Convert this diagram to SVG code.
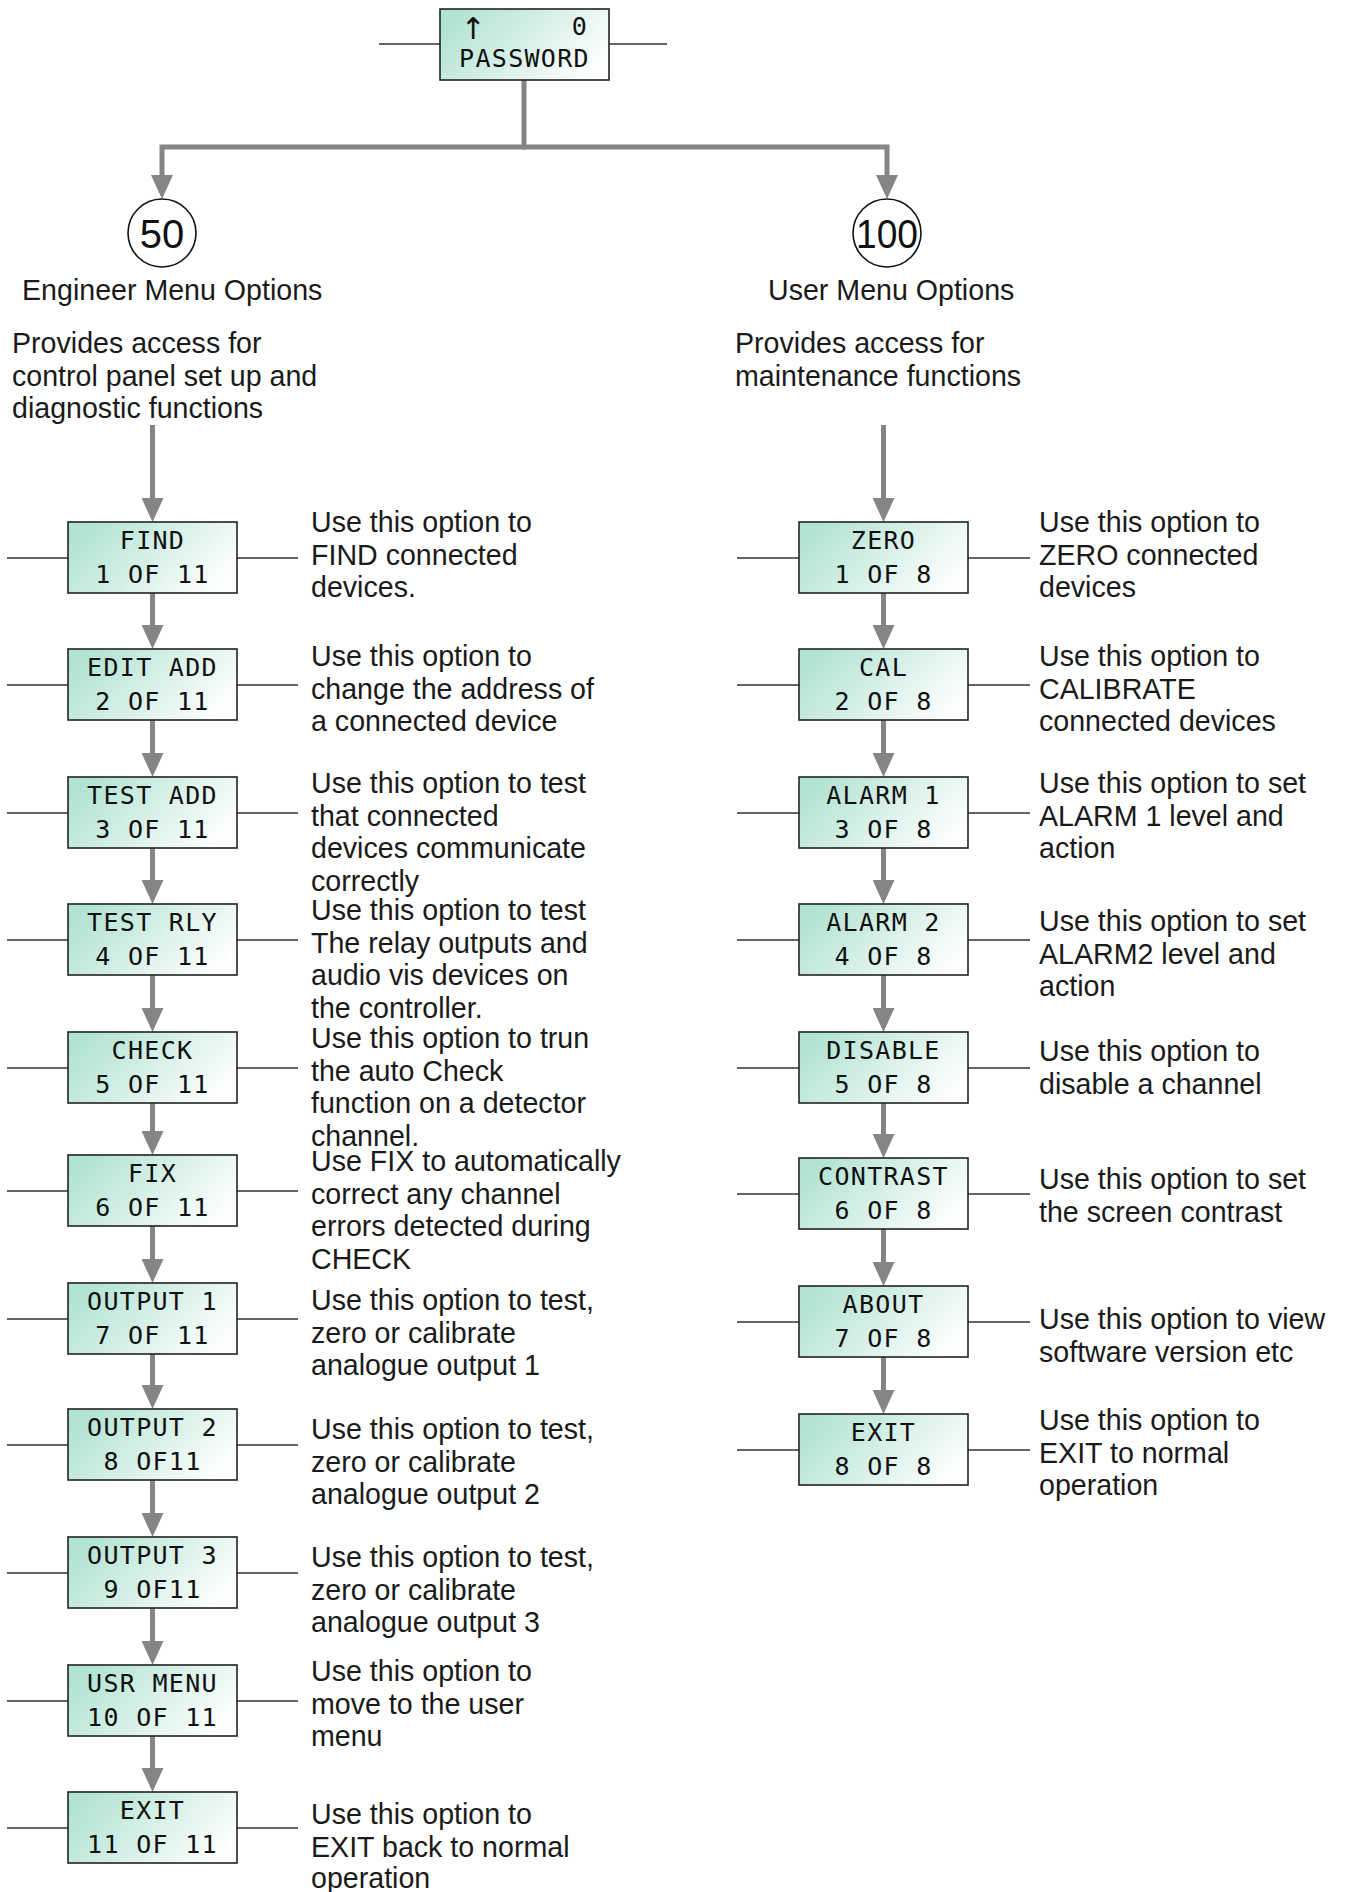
<svg xmlns="http://www.w3.org/2000/svg" width="1349" height="1892" viewBox="0 0 1349 1892">
<style>
.lcd{stroke:#222;stroke-width:1.6;fill:url(#lcdg)}
.lcdt{font-family:"DejaVu Sans Mono","Liberation Mono",monospace;font-size:25px;fill:#111;text-anchor:middle;letter-spacing:1.3px}
.arr{font-family:"DejaVu Sans","Liberation Sans",sans-serif;font-size:30px;fill:#111;text-anchor:middle}
.desc{font-family:"Liberation Sans",Arial,sans-serif;font-size:28.6px;fill:#1a1a1a}
.circ{fill:#fff;stroke:#111;stroke-width:1.6}
.num{font-family:"Liberation Sans",Arial,sans-serif;font-size:40px;fill:#111;text-anchor:middle}
.flow{fill:none;stroke:#858585;stroke-width:5}
.tick{fill:none;stroke:#333;stroke-width:1.6}
</style>
<defs>
<linearGradient id="lcdg" x1="0" y1="0.3" x2="1" y2="0.7">
<stop offset="0" stop-color="#b0e3d2"/>
<stop offset="0.55" stop-color="#dcf2ea"/>
<stop offset="1" stop-color="#ffffff"/>
</linearGradient>
<marker id="ah" viewBox="0 0 24 22" refX="12" refY="11" markerWidth="24" markerHeight="22" markerUnits="userSpaceOnUse" orient="auto">
<path d="M0,0 L24,11 L0,22 z" fill="#858585"/>
</marker>
</defs>
<rect width="1349" height="1892" fill="#fff"/>

<g id="connectors">
<path class="flow" d="M524,80 V147"/>
<path class="flow" d="M526,147 H162 V187" marker-end="url(#ah)"/>
<path class="flow" d="M522,147 H887 V187" marker-end="url(#ah)"/>
<path class="flow" d="M152.5,425 V510" marker-end="url(#ah)"/>
<path class="flow" d="M883.5,425 V510" marker-end="url(#ah)"/>
<path class="flow" d="M152.5,593 V637" marker-end="url(#ah)"/>
<path class="flow" d="M152.5,720 V765" marker-end="url(#ah)"/>
<path class="flow" d="M152.5,848 V892" marker-end="url(#ah)"/>
<path class="flow" d="M152.5,975 V1020" marker-end="url(#ah)"/>
<path class="flow" d="M152.5,1103 V1143" marker-end="url(#ah)"/>
<path class="flow" d="M152.5,1226 V1271" marker-end="url(#ah)"/>
<path class="flow" d="M152.5,1354 V1397" marker-end="url(#ah)"/>
<path class="flow" d="M152.5,1480 V1525" marker-end="url(#ah)"/>
<path class="flow" d="M152.5,1608 V1653" marker-end="url(#ah)"/>
<path class="flow" d="M152.5,1736 V1780" marker-end="url(#ah)"/>
<path class="flow" d="M883.5,593 V637" marker-end="url(#ah)"/>
<path class="flow" d="M883.5,720 V765" marker-end="url(#ah)"/>
<path class="flow" d="M883.5,848 V892" marker-end="url(#ah)"/>
<path class="flow" d="M883.5,975 V1020" marker-end="url(#ah)"/>
<path class="flow" d="M883.5,1103 V1146" marker-end="url(#ah)"/>
<path class="flow" d="M883.5,1229 V1274" marker-end="url(#ah)"/>
<path class="flow" d="M883.5,1357 V1402" marker-end="url(#ah)"/>
<path class="tick" d="M379,44 H440 M609,44 H667"/>
<path class="tick" d="M7,558 H68 M237,558 H298 M7,685 H68 M237,685 H298 M7,813 H68 M237,813 H298 M7,940 H68 M237,940 H298 M7,1068 H68 M237,1068 H298 M7,1191 H68 M237,1191 H298 M7,1319 H68 M237,1319 H298 M7,1445 H68 M237,1445 H298 M7,1573 H68 M237,1573 H298 M7,1701 H68 M237,1701 H298 M7,1828 H68 M237,1828 H298"/>
<path class="tick" d="M737,558 H799 M968,558 H1030 M737,685 H799 M968,685 H1030 M737,813 H799 M968,813 H1030 M737,940 H799 M968,940 H1030 M737,1068 H799 M968,1068 H1030 M737,1194 H799 M968,1194 H1030 M737,1322 H799 M968,1322 H1030 M737,1450 H799 M968,1450 H1030"/>
</g>

<g id="node-password" transform="translate(440,9)">
<rect class="lcd" width="169" height="71"/>
<text class="arr" x="33" y="30">↑</text>
<text class="lcdt" x="140" y="26">0</text>
<text class="lcdt" x="84.5" y="58">PASSWORD</text>
</g>

<g id="node-50">
<circle class="circ" cx="162" cy="233" r="34"/>
<text class="num" x="162" y="248">50</text>
</g>
<g id="node-100">
<circle class="circ" cx="887" cy="233" r="34"/>
<text class="num" x="887" y="248" textLength="62" lengthAdjust="spacingAndGlyphs">100</text>
</g>

<g id="engineer-heading">
<text class="desc" x="22" y="300">Engineer Menu Options</text>
<text class="desc" x="12" y="353">Provides access for</text>
<text class="desc" x="12" y="385.5">control panel set up and</text>
<text class="desc" x="12" y="418">diagnostic functions</text>
</g>
<g id="user-heading">
<text class="desc" x="768" y="300">User Menu Options</text>
<text class="desc" x="735" y="353">Provides access for</text>
<text class="desc" x="735" y="385.5">maintenance functions</text>
</g>

<g id="node-find" transform="translate(68,522)"><rect class="lcd" width="169" height="71"/><text class="lcdt" x="84.5" y="27">FIND</text><text class="lcdt" x="84.5" y="61">1 OF 11</text></g>
<g id="node-editadd" transform="translate(68,649)"><rect class="lcd" width="169" height="71"/><text class="lcdt" x="84.5" y="27">EDIT ADD</text><text class="lcdt" x="84.5" y="61">2 OF 11</text></g>
<g id="node-testadd" transform="translate(68,777)"><rect class="lcd" width="169" height="71"/><text class="lcdt" x="84.5" y="27">TEST ADD</text><text class="lcdt" x="84.5" y="61">3 OF 11</text></g>
<g id="node-testrly" transform="translate(68,904)"><rect class="lcd" width="169" height="71"/><text class="lcdt" x="84.5" y="27">TEST RLY</text><text class="lcdt" x="84.5" y="61">4 OF 11</text></g>
<g id="node-check" transform="translate(68,1032)"><rect class="lcd" width="169" height="71"/><text class="lcdt" x="84.5" y="27">CHECK</text><text class="lcdt" x="84.5" y="61">5 OF 11</text></g>
<g id="node-fix" transform="translate(68,1155)"><rect class="lcd" width="169" height="71"/><text class="lcdt" x="84.5" y="27">FIX</text><text class="lcdt" x="84.5" y="61">6 OF 11</text></g>
<g id="node-output1" transform="translate(68,1283)"><rect class="lcd" width="169" height="71"/><text class="lcdt" x="84.5" y="27">OUTPUT 1</text><text class="lcdt" x="84.5" y="61">7 OF 11</text></g>
<g id="node-output2" transform="translate(68,1409)"><rect class="lcd" width="169" height="71"/><text class="lcdt" x="84.5" y="27">OUTPUT 2</text><text class="lcdt" x="84.5" y="61">8 OF11</text></g>
<g id="node-output3" transform="translate(68,1537)"><rect class="lcd" width="169" height="71"/><text class="lcdt" x="84.5" y="27">OUTPUT 3</text><text class="lcdt" x="84.5" y="61">9 OF11</text></g>
<g id="node-usrmenu" transform="translate(68,1665)"><rect class="lcd" width="169" height="71"/><text class="lcdt" x="84.5" y="27">USR MENU</text><text class="lcdt" x="84.5" y="61">10 OF 11</text></g>
<g id="node-exit-eng" transform="translate(68,1792)"><rect class="lcd" width="169" height="71"/><text class="lcdt" x="84.5" y="27">EXIT</text><text class="lcdt" x="84.5" y="61">11 OF 11</text></g>

<g id="node-zero" transform="translate(799,522)"><rect class="lcd" width="169" height="71"/><text class="lcdt" x="84.5" y="27">ZERO</text><text class="lcdt" x="84.5" y="61">1 OF 8</text></g>
<g id="node-cal" transform="translate(799,649)"><rect class="lcd" width="169" height="71"/><text class="lcdt" x="84.5" y="27">CAL</text><text class="lcdt" x="84.5" y="61">2 OF 8</text></g>
<g id="node-alarm1" transform="translate(799,777)"><rect class="lcd" width="169" height="71"/><text class="lcdt" x="84.5" y="27">ALARM 1</text><text class="lcdt" x="84.5" y="61">3 OF 8</text></g>
<g id="node-alarm2" transform="translate(799,904)"><rect class="lcd" width="169" height="71"/><text class="lcdt" x="84.5" y="27">ALARM 2</text><text class="lcdt" x="84.5" y="61">4 OF 8</text></g>
<g id="node-disable" transform="translate(799,1032)"><rect class="lcd" width="169" height="71"/><text class="lcdt" x="84.5" y="27">DISABLE</text><text class="lcdt" x="84.5" y="61">5 OF 8</text></g>
<g id="node-contrast" transform="translate(799,1158)"><rect class="lcd" width="169" height="71"/><text class="lcdt" x="84.5" y="27">CONTRAST</text><text class="lcdt" x="84.5" y="61">6 OF 8</text></g>
<g id="node-about" transform="translate(799,1286)"><rect class="lcd" width="169" height="71"/><text class="lcdt" x="84.5" y="27">ABOUT</text><text class="lcdt" x="84.5" y="61">7 OF 8</text></g>
<g id="node-exit-user" transform="translate(799,1414)"><rect class="lcd" width="169" height="71"/><text class="lcdt" x="84.5" y="27">EXIT</text><text class="lcdt" x="84.5" y="61">8 OF 8</text></g>

<g id="descriptions-engineer">
<text class="desc" x="311" y="532">Use this option to</text>
<text class="desc" x="311" y="564.5">FIND connected</text>
<text class="desc" x="311" y="597">devices.</text>
<text class="desc" x="311" y="666">Use this option to</text>
<text class="desc" x="311" y="698.5">change the address of</text>
<text class="desc" x="311" y="731">a connected device</text>
<text class="desc" x="311" y="793">Use this option to test</text>
<text class="desc" x="311" y="825.5">that connected</text>
<text class="desc" x="311" y="858">devices communicate</text>
<text class="desc" x="311" y="890.5">correctly</text>
<text class="desc" x="311" y="920">Use this option to test</text>
<text class="desc" x="311" y="952.5">The relay outputs and</text>
<text class="desc" x="311" y="985">audio vis devices on</text>
<text class="desc" x="311" y="1017.5">the controller.</text>
<text class="desc" x="311" y="1048">Use this option to trun</text>
<text class="desc" x="311" y="1080.5">the auto Check</text>
<text class="desc" x="311" y="1113">function on a detector</text>
<text class="desc" x="311" y="1145.5">channel.</text>
<text class="desc" x="311" y="1171">Use FIX to automatically</text>
<text class="desc" x="311" y="1203.5">correct any channel</text>
<text class="desc" x="311" y="1236">errors detected during</text>
<text class="desc" x="311" y="1268.5">CHECK</text>
<text class="desc" x="311" y="1310">Use this option to test,</text>
<text class="desc" x="311" y="1342.5">zero or calibrate</text>
<text class="desc" x="311" y="1375">analogue output 1</text>
<text class="desc" x="311" y="1439">Use this option to test,</text>
<text class="desc" x="311" y="1471.5">zero or calibrate</text>
<text class="desc" x="311" y="1504">analogue output 2</text>
<text class="desc" x="311" y="1567">Use this option to test,</text>
<text class="desc" x="311" y="1599.5">zero or calibrate</text>
<text class="desc" x="311" y="1632">analogue output 3</text>
<text class="desc" x="311" y="1681">Use this option to</text>
<text class="desc" x="311" y="1713.5">move to the user</text>
<text class="desc" x="311" y="1746">menu</text>
<text class="desc" x="311" y="1824">Use this option to</text>
<text class="desc" x="311" y="1856.5">EXIT back to normal</text>
<text class="desc" x="311" y="1888">operation</text>
</g>

<g id="descriptions-user">
<text class="desc" x="1039" y="532">Use this option to</text>
<text class="desc" x="1039" y="564.5">ZERO connected</text>
<text class="desc" x="1039" y="597">devices</text>
<text class="desc" x="1039" y="666">Use this option to</text>
<text class="desc" x="1039" y="698.5">CALIBRATE</text>
<text class="desc" x="1039" y="731">connected devices</text>
<text class="desc" x="1039" y="793">Use this option to set</text>
<text class="desc" x="1039" y="825.5">ALARM 1 level and</text>
<text class="desc" x="1039" y="858">action</text>
<text class="desc" x="1039" y="931">Use this option to set</text>
<text class="desc" x="1039" y="963.5">ALARM2 level and</text>
<text class="desc" x="1039" y="996">action</text>
<text class="desc" x="1039" y="1061">Use this option to</text>
<text class="desc" x="1039" y="1093.5">disable a channel</text>
<text class="desc" x="1039" y="1189">Use this option to set</text>
<text class="desc" x="1039" y="1221.5">the screen contrast</text>
<text class="desc" x="1039" y="1329">Use this option to view</text>
<text class="desc" x="1039" y="1361.5">software version etc</text>
<text class="desc" x="1039" y="1430">Use this option to</text>
<text class="desc" x="1039" y="1462.5">EXIT to normal</text>
<text class="desc" x="1039" y="1495">operation</text>
</g>
</svg>
